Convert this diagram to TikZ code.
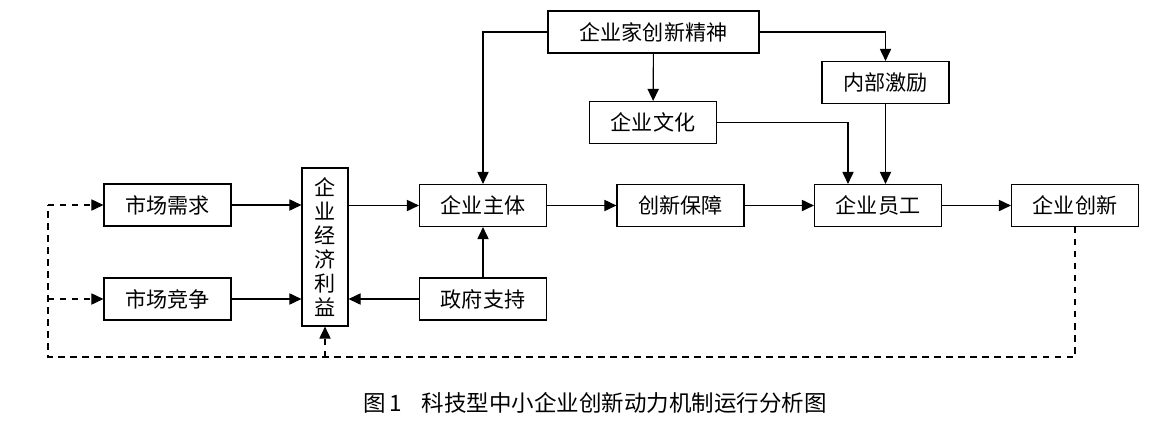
\documentclass[tikz,border=0pt]{standalone}
\usepackage{fontspec}
\setmainfont{Noto Sans CJK SC}
\usetikzlibrary{arrows.meta}
\tikzset{
  box/.style={draw,line width=0.8pt,minimum width=3.175cm,minimum height=1.05cm,inner sep=0pt,font=\fontsize{15}{17}\selectfont},
  arr/.style={line width=0.8pt,-{Triangle[length=3mm,width=2.8mm]}},
  dashline/.style={line width=0.8pt,dash pattern=on 1.6mm off 1.4mm}
}
\begin{document}
\begin{tikzpicture}[x=0.025cm,y=-0.025cm]
\useasboundingbox (0,0) rectangle (1164,442);
\node[box] (xuqiu) at (167.5,205) {市场需求};
\node[box] (jingzheng) at (167.5,299) {市场竞争};
\node[box,minimum width=1.15cm,minimum height=3.95cm,align=center] (liyi) at (325,247) {企\\业\\经\\济\\利\\益};
\node[box] (zhuti) at (483,205.5) {企业主体};
\node[box] (zhengfu) at (483,299) {政府支持};
\node[box] (baozhang) at (680.5,205.5) {创新保障};
\node[box] (yuangong) at (878,205.5) {企业员工};
\node[box] (chuangxin) at (1075,205.5) {企业创新};
\node[box,minimum width=5.275cm] (jingshen) at (653.5,32) {企业家创新精神};
\node[box] (wenhua) at (653,122.5) {企业文化};
\node[box] (jili) at (885.5,82.5) {内部激励};
\coordinate (lb) at (48,357);

\draw[arr] (xuqiu.east) -- (xuqiu.east -| liyi.west);
\draw[arr] (jingzheng.east) -- (jingzheng.east -| liyi.west);
\draw[arr] (liyi.east |- zhuti) -- (zhuti.west);
\draw[arr] (zhengfu.west) -- (zhengfu.west -| liyi.east);
\draw[arr] (zhengfu) -- (zhuti);
\draw[arr] (zhuti) -- (baozhang);
\draw[arr] (baozhang) -- (yuangong);
\draw[arr] (yuangong) -- (chuangxin);
\draw[arr] (jingshen.west) -| (zhuti.north);
\draw[arr] (jingshen.east) -| (jili.north);
\draw[arr] (jingshen) -- (wenhua);
\draw[arr] (wenhua.east) -| ([xshift=-0.75cm]yuangong.north);
\draw[arr] (jili.south) -- (jili.south |- yuangong.north);
% feedback loop
\draw[dashline] (chuangxin.south) |- (lb) -- (lb |- xuqiu);
\draw[dashline,arr] (lb |- xuqiu) -- (xuqiu.west);
\draw[dashline,arr] (lb |- jingzheng) -- (jingzheng.west);
\draw[dashline,arr] (lb -| liyi) -- (liyi.south);

\node[font=\fontsize{16}{18}\selectfont] (caption) at (595,403) {图\,1\hspace{0.9em}科技型中小企业创新动力机制运行分析图};
\end{tikzpicture}
\end{document}
